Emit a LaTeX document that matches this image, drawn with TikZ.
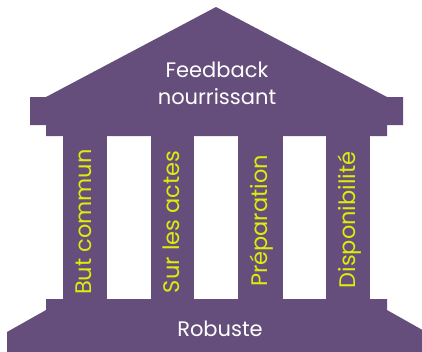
\documentclass[tikz,border=0pt]{standalone}
\usepackage{fontspec}
\setmainfont{Poppins}
\definecolor{temple}{HTML}{654E7C}
\definecolor{lime}{HTML}{DDED0A}
\tikzset{
  part/.style={fill=temple, draw=none},
  pillarlabel/.style={text=lime, font=\fontsize{22.5}{26}\selectfont, rotate=90, anchor=base, inner sep=0pt},
  whitelabel/.style={text=white, font=\fontsize{21}{27}\selectfont, align=center, inner sep=0pt}
}
\begin{document}
\begin{tikzpicture}[x=1pt,y=-1pt]
\useasboundingbox (0,0) rectangle (422,351);
\clip (0,0) rectangle (422,351);
% roof
\fill[part] (216,7) -- (387,97) -- (403,97) -- (403,125) -- (387,125) -- (387,136)
  -- (46,136) -- (46,125) -- (30,125) -- (30,97) -- (46,97) -- cycle;
% pillars
\fill[part] (63,135) rectangle (107,300);
\fill[part] (151,135) rectangle (194,300);
\fill[part] (238,135) rectangle (283,300);
\fill[part] (326,135) rectangle (370,300);
% base
\fill[part] (46,299) -- (387,299) -- (387,310) -- (426,332) -- (426,352)
  -- (7,352) -- (7,332) -- (46,310) -- cycle;
% labels
\node[whitelabel, anchor=base] (roof) at (217,104) {Feedback\\nourrissant};
\node[pillarlabel] (p1) at (91,222) {But commun};
\node[pillarlabel] (p2) at (179,222) {Sur les actes};
\node[pillarlabel] (p3) at (267,221) {Préparation};
\node[pillarlabel] (p4) at (355,220) {Disponibilité};
\node[whitelabel, anchor=base] (base) at (220,336) {Robuste};
\end{tikzpicture}
\end{document}
